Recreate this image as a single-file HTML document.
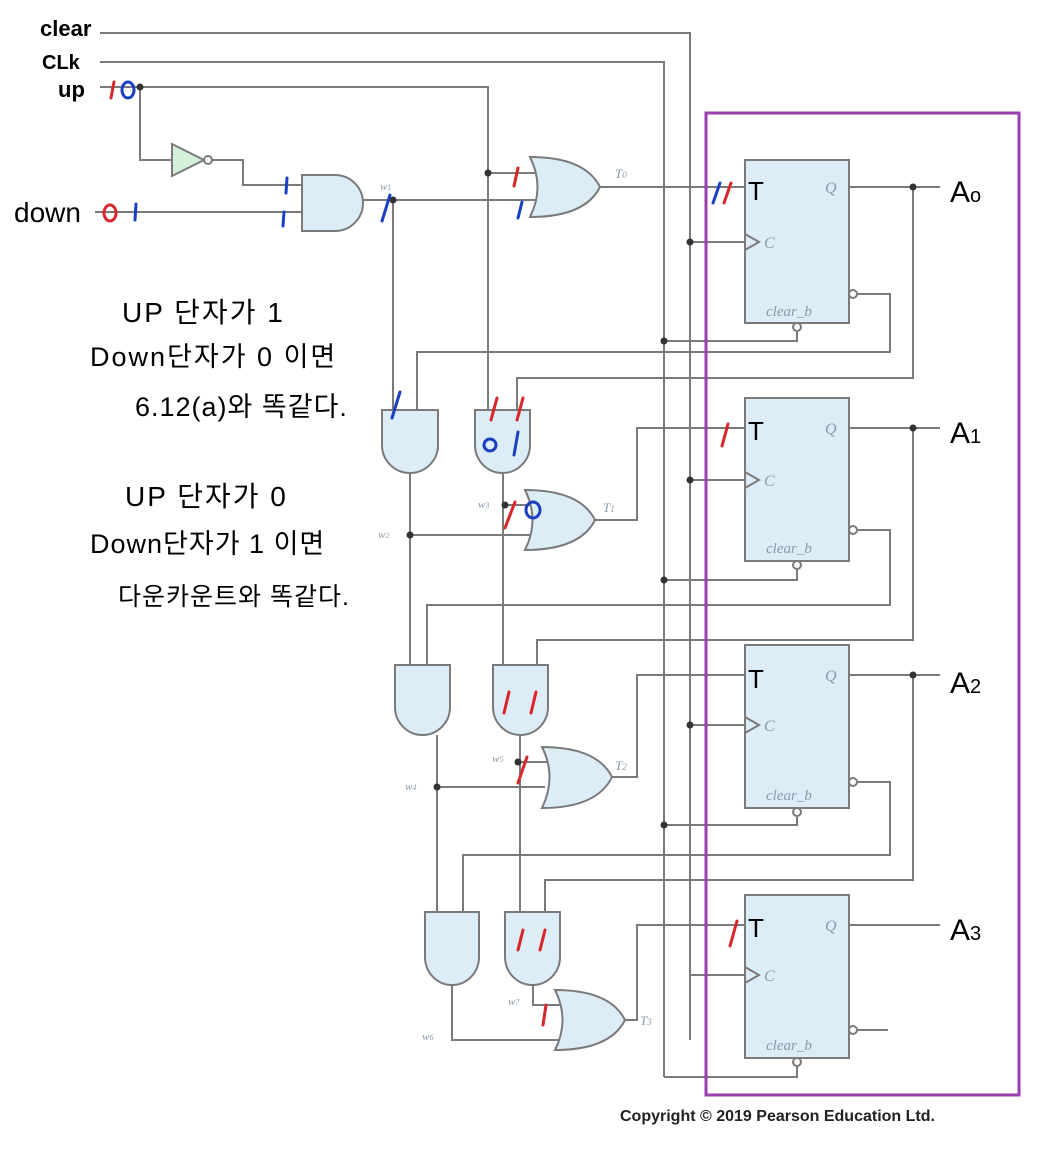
<!DOCTYPE html>
<html><head><meta charset="utf-8"><style>
html,body{margin:0;padding:0;background:#fff;}
svg{display:block;}
.w{stroke:#7a7a7a;stroke-width:2;fill:none;}
.g{fill:#dcedf7;stroke:#7a7a7a;stroke-width:2;}
.d{fill:#333;}
.lab{font-family:"Liberation Serif",serif;font-style:italic;fill:#8a9aa8;}
.hw{font-family:"Liberation Sans","Noto Sans CJK KR",sans-serif;fill:#000;}
.r{stroke:#d8262a;stroke-width:3;fill:none;stroke-linecap:round;}
.b{stroke:#1a3fc0;stroke-width:3;fill:none;stroke-linecap:round;}
</style></head><body>
<svg width="1054" height="1153" viewBox="0 0 1054 1153" xmlns="http://www.w3.org/2000/svg">
<path class="w" d="M100 33 H690 V1040"/>
<path class="w" d="M100 62 H664 V1077"/>
<path class="w" d="M100 87 H488 V410"/>
<path class="w" d="M140 87 V160 H172"/>
<polygon class="g" points="172,144 172,176 204,160" style="fill:#d6efd9"/>
<circle cx="208" cy="160" r="4" fill="#fff" stroke="#7a7a7a" stroke-width="2"/>
<path class="w" d="M212 160 H243 V185 H302"/>
<path class="w" d="M95 212 H302"/>
<path class="g" d="M302 175 H335 A28 28 0 0 1 335 231 H302 Z"/>
<path class="w" d="M363 200 H535"/>
<path class="w" d="M488 173 H535"/>
<path class="w" d="M393 200 V410"/>
<path class="g" d="M530 157 Q585 157 600 187 Q585 217 530 217 Q545 187 530 157 Z"/>
<path class="w" d="M600 187 H745"/>
<path class="w" d="M856 294 H890 V352 H417 V410"/>
<path class="w" d="M849 187 H940"/>
<path class="w" d="M913 187 V378 H517 V410"/>
<path class="g" d="M382 410 H438 V445 A28 28 0 0 1 382 445 Z"/>
<path class="g" d="M475 410 H530 V445 A27.5 28 0 0 1 475 445 Z"/>
<path class="w" d="M410 473 V665"/>
<path class="w" d="M410 535 H535"/>
<path class="w" d="M503 473 V665"/>
<path class="w" d="M503 505 H535"/>
<path class="g" d="M525 490 Q580 490 595 520 Q580 550 525 550 Q540 520 525 490 Z"/>
<path class="w" d="M595 520 H637 V428 H745"/>
<path class="w" d="M856 530 H890 V605 H427 V665"/>
<path class="w" d="M849 428 H940"/>
<path class="w" d="M913 428 V640 H537 V665"/>
<path class="g" d="M395 665 H450 V707 A27.5 28 0 0 1 395 707 Z"/>
<path class="g" d="M493 665 H548 V707 A27.5 28 0 0 1 493 707 Z"/>
<path class="w" d="M437 735 V912"/>
<path class="w" d="M437 787 H545"/>
<path class="w" d="M520 735 V912"/>
<path class="w" d="M520 762 H548"/>
<path class="g" d="M542 747 Q597 747 612 777 Q597 808 542 808 Q557 777 542 747 Z"/>
<path class="w" d="M612 777 H637 V675 H745"/>
<path class="w" d="M856 782 H890 V855 H463 V912"/>
<path class="w" d="M849 675 H940"/>
<path class="w" d="M913 675 V880 H545 V912"/>
<path class="g" d="M425 912 H479 V957 A27 28 0 0 1 425 957 Z"/>
<path class="g" d="M505 912 H560 V957 A27.5 28 0 0 1 505 957 Z"/>
<path class="w" d="M452 985 V1040 H560"/>
<path class="w" d="M533 985 V1005 H560"/>
<path class="g" d="M555 990 Q610 990 625 1020 Q610 1050 555 1050 Q570 1020 555 990 Z"/>
<path class="w" d="M625 1020 H637 V925 H745"/>
<path class="w" d="M849 925 H940"/>
<path class="w" d="M856 1030 H888"/>
<path class="w" d="M690 242 H745 M690 480 H745 M690 725 H745 M690 975 H745"/>
<path class="w" d="M664 341 H797 V329 M664 580 H797 V568 M664 825 H797 V813 M664 1077 H797 V1065"/>
<g>
<rect class="g" x="745" y="160" width="104" height="163"/>
<rect class="g" x="745" y="398" width="104" height="163"/>
<rect class="g" x="745" y="645" width="104" height="163"/>
<rect class="g" x="745" y="895" width="104" height="163"/>
</g>
<g class="w" style="fill:#fff">
<circle cx="853" cy="294" r="4"/><circle cx="853" cy="530" r="4"/><circle cx="853" cy="782" r="4"/><circle cx="853" cy="1030" r="4"/>
<circle cx="797" cy="327" r="4"/><circle cx="797" cy="565" r="4"/><circle cx="797" cy="812" r="4"/><circle cx="797" cy="1062" r="4"/>
</g>
<g class="w">
<path d="M745 234 L759 242 L745 250"/><path d="M745 472 L759 480 L745 488"/><path d="M745 717 L759 725 L745 733"/><path d="M745 967 L759 975 L745 983"/>
</g>
<g class="lab" font-size="16">
<text x="825" y="193">Q</text><text x="825" y="434">Q</text><text x="825" y="681">Q</text><text x="825" y="931">Q</text>
<text x="764" y="248">C</text><text x="764" y="486">C</text><text x="764" y="731">C</text><text x="764" y="981">C</text>
<text x="766" y="316" font-size="15">clear_b</text><text x="766" y="553" font-size="15">clear_b</text><text x="766" y="800" font-size="15">clear_b</text><text x="766" y="1050" font-size="15">clear_b</text>
<text x="615" y="178" font-size="13">T<tspan font-size="9">0</tspan></text>
<text x="603" y="512" font-size="13">T<tspan font-size="9">1</tspan></text>
<text x="615" y="770" font-size="13">T<tspan font-size="9">2</tspan></text>
<text x="640" y="1025" font-size="13">T<tspan font-size="9">3</tspan></text>
<text x="380" y="190" font-size="11">w<tspan font-size="8">1</tspan></text>
<text x="378" y="538" font-size="11">w<tspan font-size="8">2</tspan></text>
<text x="478" y="508" font-size="11">w<tspan font-size="8">3</tspan></text>
<text x="405" y="790" font-size="11">w<tspan font-size="8">4</tspan></text>
<text x="492" y="762" font-size="11">w<tspan font-size="8">5</tspan></text>
<text x="422" y="1040" font-size="11">w<tspan font-size="8">6</tspan></text>
<text x="508" y="1005" font-size="11">w<tspan font-size="8">7</tspan></text>
</g>
<g class="d">
<circle cx="140" cy="87" r="3.5"/><circle cx="393" cy="200" r="3.5"/><circle cx="488" cy="173" r="3.5"/>
<circle cx="410" cy="535" r="3.5"/><circle cx="505" cy="505" r="3.5"/><circle cx="437" cy="787" r="3.5"/><circle cx="518" cy="762" r="3.5"/>
<circle cx="913" cy="187" r="3.5"/><circle cx="913" cy="428" r="3.5"/><circle cx="913" cy="675" r="3.5"/>
<circle cx="690" cy="242" r="3.5"/><circle cx="690" cy="480" r="3.5"/><circle cx="690" cy="725" r="3.5"/>
<circle cx="664" cy="341" r="3.5"/><circle cx="664" cy="580" r="3.5"/><circle cx="664" cy="825" r="3.5"/>
</g>
<rect x="706" y="113" width="313" height="982" fill="none" stroke="#9b3fb0" stroke-width="3"/>
<g class="hw">
<text x="40" y="36" font-size="22" font-weight="bold">clear</text>
<text x="42" y="69" font-size="20" font-weight="bold">CLk</text>
<text x="58" y="97" font-size="22" font-weight="bold">up</text>
<text x="14" y="222" font-size="28">down</text>
<text x="950" y="202" font-size="30">A<tspan font-size="20">o</tspan></text>
<text x="950" y="443" font-size="30">A<tspan font-size="20">1</tspan></text>
<text x="950" y="693" font-size="30">A<tspan font-size="20">2</tspan></text>
<text x="950" y="940" font-size="30">A<tspan font-size="20">3</tspan></text>
<text x="748" y="200" font-size="26">T</text><text x="748" y="440" font-size="26">T</text><text x="748" y="688" font-size="26">T</text><text x="748" y="937" font-size="26">T</text>
<text x="122" y="322" font-size="28" letter-spacing="2">UP 단자가 1</text>
<text x="90" y="366" font-size="27" letter-spacing="2">Down단자가 0  이면</text>
<text x="135" y="416" font-size="27" letter-spacing="1">6.12(a)와 똑같다.</text>
<text x="125" y="506" font-size="28" letter-spacing="2">UP 단자가 0</text>
<text x="90" y="553" font-size="27" letter-spacing="1">Down단자가 1 이면</text>
<text x="118" y="605" font-size="25" letter-spacing="1">다운카운트와 똑같다.</text>
</g>
<g>
<path class="r" d="M111 98 L114 82"/><ellipse cx="128" cy="90" rx="6" ry="8" class="b"/>
<ellipse cx="110" cy="213" rx="6" ry="8" class="r"/><path class="b" d="M135 220 L136 204"/>
<path class="b" d="M286 193 L287 178 M283 226 L284 212 M382 221 L390 195"/>
<path class="r" d="M514 186 L518 168"/><path class="b" d="M518 218 L522 202"/>
<path class="b" d="M713 203 L720 183"/><path class="r" d="M724 203 L731 183"/>
<path class="b" d="M392 418 L400 392"/>
<path class="r" d="M491 420 L497 398 M517 420 L523 398"/>
<ellipse cx="490" cy="445" rx="6" ry="6" class="b"/><path class="b" d="M514 455 L518 432"/>
<path class="r" d="M505 528 L515 502"/><ellipse cx="533" cy="510" rx="7" ry="8" class="b"/>
<path class="r" d="M722 446 L728 424"/>
<path class="r" d="M504 713 L509 692 M531 713 L536 692 M518 783 L527 757"/>
<path class="r" d="M518 950 L523 930 M540 950 L545 930 M543 1025 L546 1005 M730 946 L737 921"/>
</g>
<text x="620" y="1121" font-family="Liberation Sans,sans-serif" font-weight="bold" font-size="16" fill="#222">Copyright © 2019 Pearson Education Ltd.</text>
</svg>
</body></html>
